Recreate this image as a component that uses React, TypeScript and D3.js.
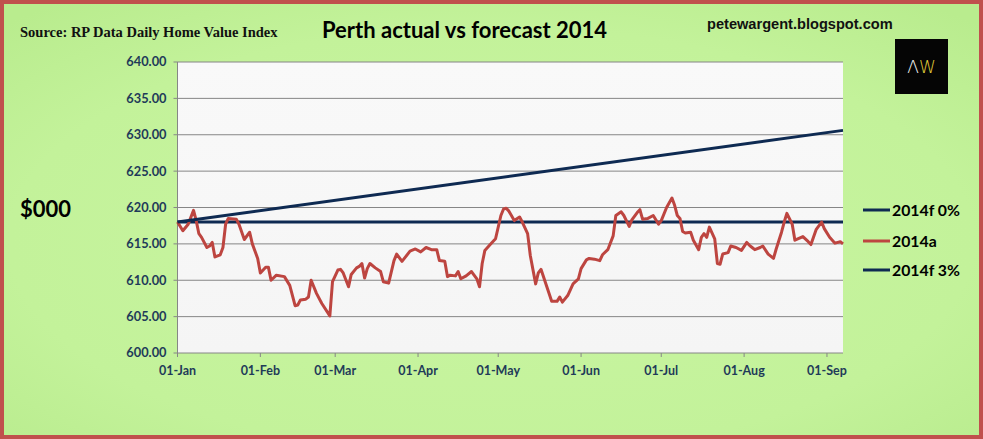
import React from "react";
import * as d3 from "d3";

const W = 983;
const H = 439;

// Y ticks
const yTicks = [600, 605, 610, 615, 620, 625, 630, 635, 640];
// X tick dates (month starts) and labels
const xTickDates = ["2014-01-01", "2014-02-01", "2014-03-01", "2014-04-01", "2014-05-01", "2014-06-01", "2014-07-01", "2014-08-01", "2014-09-01"];
const xTickLabels = ["01-Jan", "01-Feb", "01-Mar", "01-Apr", "01-May", "01-Jun", "01-Jul", "01-Aug", "01-Sep"];

// Forecast series (start and end of the range)
const forecastDates = ["2014-01-01", "2014-09-07"];
const f0Values = [618.0, 618.0];
const f3Values = [618.0, 630.6];

// Actual series: day offset from 1 Jan 2014 and value ($000)
const actualDays = [
  0, 2, 4, 6, 7, 8, 9, 11, 12, 13, 14, 16, 17, 18, 19, 22, 23, 25, 27, 28,
  30, 31, 33, 34, 35, 37, 40, 42, 44, 45, 46, 48, 49, 50, 52, 54, 57, 58, 60, 61,
  62, 64, 65, 67, 68, 69, 70, 71, 72, 74, 76, 77, 79, 81, 82, 84, 87, 89, 91, 93,
  95, 97, 98, 100, 101, 102, 104, 105, 106, 108, 110, 112, 113, 114, 115, 117, 119, 121, 122, 123,
  124, 126, 128, 129, 131, 132, 134, 135, 136, 138, 139, 140, 142, 143, 144, 146, 148, 150, 151, 153,
  154, 156, 158, 159, 161, 163, 164, 166, 167, 169, 170, 172, 173, 174, 176, 178, 180, 181, 183, 185,
  186, 187, 188, 189, 190, 192, 193, 195, 196, 197, 198, 199, 201, 202, 203, 204, 206, 207, 209, 211,
  213, 214, 215, 216, 218, 219, 221, 223, 224, 226, 227, 228, 230, 231, 234, 236, 237, 239, 241, 242,
  244, 246, 248, 249,
];
const actualValues = [
  618.0, 616.8, 617.7, 619.6, 618.2, 616.4, 615.9, 614.5, 614.7, 615.2, 613.2, 613.5, 614.5, 617.7, 618.5, 618.4, 617.7, 615.6, 616.6, 615.0,
  613.0, 611.0, 611.8, 611.8, 610.0, 610.7, 610.5, 609.3, 606.5, 606.6, 607.3, 607.4, 607.7, 610.0, 608.2, 606.8, 605.1, 609.8, 611.4, 611.5,
  611.0, 609.1, 610.8, 611.7, 611.9, 612.3, 610.3, 611.6, 612.3, 611.7, 611.2, 609.8, 609.6, 612.7, 613.6, 612.6, 614.0, 614.3, 613.9, 614.5,
  614.2, 614.2, 612.7, 612.6, 610.5, 610.7, 610.6, 611.2, 610.2, 610.6, 611.2, 610.2, 609.1, 612.3, 614.1, 614.9, 615.7, 618.9, 619.8, 619.9,
  619.5, 618.2, 618.7, 618.0, 616.4, 613.4, 609.5, 611.0, 611.5, 609.3, 608.2, 607.1, 607.1, 607.7, 607.0, 607.9, 609.5, 610.2, 611.6, 612.8,
  613.0, 612.9, 612.7, 613.5, 614.2, 616.1, 618.9, 619.4, 618.9, 617.4, 618.3, 619.3, 619.7, 618.4, 618.5, 618.9, 617.7, 618.2, 620.0, 621.3,
  620.3, 618.9, 618.5, 616.7, 616.5, 616.6, 615.5, 614.2, 615.9, 616.4, 615.9, 617.3, 615.7, 612.3, 612.2, 613.6, 613.8, 614.7, 614.5, 614.1,
  615.2, 614.8, 614.5, 614.2, 614.5, 614.7, 613.6, 613.0, 614.3, 616.6, 618.0, 619.2, 617.7, 615.5, 616.0, 615.3, 614.9, 617.0, 618.0, 617.1,
  615.9, 615.1, 615.3, 615.0,
];

const legendLabels = ["2014f 0%", "2014a", "2014f 3%"];

const parse = d3.timeParse("%Y-%m-%d");
const startDate = parse("2014-01-01") as Date;

const NAVY = "#0e2a52";
const RED = "#bd4540";
const AXIS_TXT = "#1f3b59";
const FONT = "Lato, 'Open Sans', sans-serif";

export default function App() {
  const left = 177.5, right = 843, top = 62, bottom = 353;
  const x = d3.scaleTime().domain([startDate, parse("2014-09-07") as Date]).range([left, right]);
  const y = d3.scaleLinear().domain([600, 640]).range([bottom, top]);

  const actual = actualDays.map((d, i) => ({ date: d3.timeDay.offset(startDate, d), v: actualValues[i] }));
  const fDates = forecastDates.map((s) => parse(s) as Date);
  const f0 = fDates.map((d, i) => ({ date: d, v: f0Values[i] }));
  const f3 = fDates.map((d, i) => ({ date: d, v: f3Values[i] }));

  const line = d3
    .line<{ date: Date; v: number }>()
    .x((d) => x(d.date))
    .y((d) => y(d.v));

  const legendY = [210, 241, 270];
  const legendColors = [NAVY, RED, NAVY];

  return (
    <svg
      width={W}
      height={H}
      style={{ position: "absolute", left: 0, top: 0, display: "block" }}
      xmlns="http://www.w3.org/2000/svg"
    >
      <defs>
        <radialGradient id="bg" cx="50%" cy="55%" r="70%">
          <stop offset="0%" stopColor="#c9f5a2" />
          <stop offset="70%" stopColor="#c3f29a" />
          <stop offset="100%" stopColor="#b9ec8e" />
        </radialGradient>
        <linearGradient id="plotbg" x1="0" y1="0" x2="0" y2="1">
          <stop offset="0%" stopColor="#f9f9f9" />
          <stop offset="100%" stopColor="#f5f5f5" />
        </linearGradient>
      </defs>
      <rect x={0} y={0} width={W} height={H} fill="url(#bg)" />
      <rect x={2} y={2} width={W - 4} height={H - 4} fill="none" stroke="#c0504d" strokeWidth={4} />

      {/* Plot area */}
      <rect x={left} y={top} width={right - left} height={bottom - top} fill="url(#plotbg)" />
      {yTicks.map((t) => (
        <g key={t}>
          <line x1={left - 4} x2={right} y1={y(t)} y2={y(t)} stroke="#868686" strokeWidth={1} />
          <text
            x={left - 11}
            y={y(t)}
            dy="0.35em"
            textAnchor="end"
            fontFamily={FONT}
            fontWeight={700}
            fontSize={12.8}
            fill={AXIS_TXT}
          >
            {t.toFixed(2)}
          </text>
        </g>
      ))}
      <line x1={left} x2={left} y1={top} y2={bottom} stroke="#868686" strokeWidth={1} />
      {xTickDates.map((s, i) => {
        const xx = x(parse(s) as Date);
        return (
          <g key={s}>
            <line x1={xx} x2={xx} y1={bottom} y2={bottom + 4} stroke="#868686" strokeWidth={1} />
            <text
              x={xx}
              y={bottom + 22}
              textAnchor="middle"
              fontFamily={FONT}
              fontWeight={700}
              fontSize={12.5}
              fill={AXIS_TXT}
            >
              {xTickLabels[i]}
            </text>
          </g>
        );
      })}

      {/* Series */}
      <path d={line(f0) || ""} fill="none" stroke={NAVY} strokeWidth={3} />
      <path d={line(actual) || ""} fill="none" stroke={RED} strokeWidth={3} strokeLinejoin="round" />
      <path d={line(f3) || ""} fill="none" stroke={NAVY} strokeWidth={3} />

      {/* Texts */}
      <text x={20} y={37} fontFamily="'Liberation Serif', 'Times New Roman', serif" fontWeight={700} fontSize={14.5} fill="#111">
        Source: RP Data Daily Home Value Index
      </text>
      <text x={322} y={38} fontFamily={FONT} fontWeight={700} fontSize={22} fill="#000">
        Perth actual vs forecast 2014
      </text>
      <text x={707} y={29} fontFamily="'Liberation Sans', Arial, sans-serif" fontWeight={700} fontSize={14.6} fill="#111">
        petewargent.blogspot.com
      </text>
      <text x={20} y={217} fontFamily={FONT} fontWeight={700} fontSize={22} fill="#000">
        $000
      </text>

      {/* Logo */}
      <rect x={895} y={39} width={53} height={55} fill="#050505" />
      <text x={921.5} y={73} textAnchor="middle" fontFamily="'DejaVu Sans', sans-serif" fontWeight={300} fontSize={17}>
        <tspan fill="#f2f2f2">Λ</tspan>
        <tspan fill="#e3cf3a">W</tspan>
      </text>

      {/* Legend */}
      {legendLabels.map((lab, i) => (
        <g key={lab}>
          <line x1={863} x2={890} y1={legendY[i]} y2={legendY[i]} stroke={legendColors[i]} strokeWidth={3} />
          <text x={892} y={legendY[i]} dy="0.36em" fontFamily={FONT} fontWeight={700} fontSize={15.8} fill="#000">
            {lab}
          </text>
        </g>
      ))}
    </svg>
  );
}
